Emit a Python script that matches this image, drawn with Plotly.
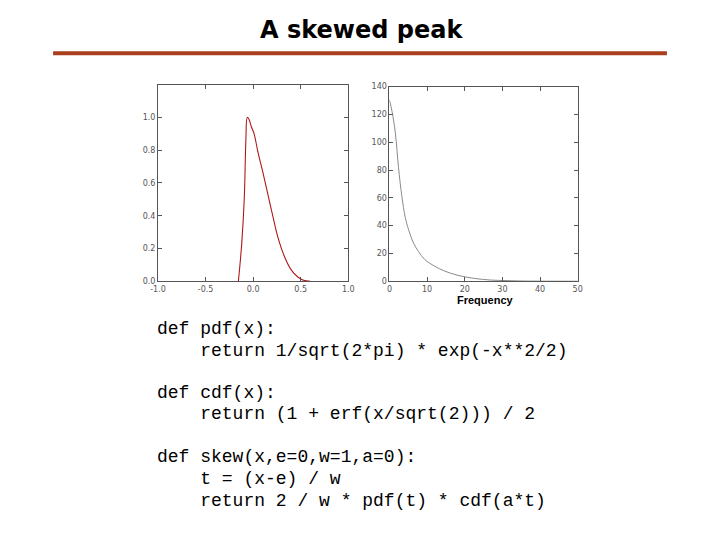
import plotly.graph_objects as go

# Left panel: skewed peak pdf
skew_x = [-0.155, -0.12, -0.093, -0.076, -0.062, -0.045, -0.017, 0.01, 0.05, 0.10,
          0.155, 0.21, 0.26, 0.33, 0.40, 0.47, 0.53, 0.60]
skew_y = [0.0, 0.23, 0.51, 0.87, 1.0, 0.99, 0.94, 0.90, 0.79, 0.67,
          0.53, 0.39, 0.27, 0.15, 0.07, 0.026, 0.006, 0.0]

# Right panel: frequency curve
freq_x = [0, 0.7, 1.6, 2.4, 3.3, 4.2, 5.1, 6.4, 7.7, 9.4, 12.0, 14.7, 18.2,
          22.5, 26.9, 31.2, 35.6, 42, 50]
freq_y = [130.5, 122, 106, 82, 61, 46, 37, 27.5, 21.5, 15.6, 10.9, 7.3, 4.3,
          2.1, 0.9, 0.5, 0.2, 0.08, 0.03]

left_xticks = [-1.0, -0.5, 0.0, 0.5, 1.0]
left_yticks = [0.0, 0.2, 0.4, 0.6, 0.8, 1.0]
right_xticks = [0, 10, 20, 30, 40, 50]
right_yticks = [0, 20, 40, 60, 80, 100, 120, 140]

title_text = "A skewed peak"
xlabel_right = "Frequency"
code_lines = [
    ("def pdf(x):", 331),
    ("    return 1/sqrt(2*pi) * exp(-x**2/2)", 353),
    ("def cdf(x):", 396),
    ("    return (1 + erf(x/sqrt(2))) / 2", 417),
    ("def skew(x,e=0,w=1,a=0):", 461),
    ("    t = (x-e) / w", 483),
    ("    return 2 / w * pdf(t) * cdf(a*t)", 505),
]

W, H = 720, 540

fig = go.Figure()
fig.add_trace(go.Scatter(x=skew_x, y=skew_y, mode="lines",
                         line=dict(color="#b01818", width=1.1, shape="spline"),
                         xaxis="x", yaxis="y", showlegend=False))
fig.add_trace(go.Scatter(x=freq_x, y=freq_y, mode="lines",
                         line=dict(color="#8a8a8a", width=1, shape="spline"),
                         xaxis="x2", yaxis="y2", showlegend=False))

axis_common = dict(showline=True, linecolor="#555", linewidth=1, mirror="allticks",
                   ticks="inside", ticklen=4, tickcolor="#555", showgrid=False,
                   zeroline=False, tickfont=dict(size=8, color="#555",
                                                 family="DejaVu Sans"))

fig.update_layout(
    width=W, height=H,
    margin=dict(l=0, r=0, t=0, b=0),
    paper_bgcolor="white", plot_bgcolor="white",
    xaxis=dict(domain=[153 / W, 347 / W], range=[-1, 1], tickvals=left_xticks,
               ticktext=["%.1f" % v for v in left_xticks], anchor="y", **axis_common),
    yaxis=dict(domain=[1 - 282 / H, 1 - 82 / H], range=[0, 1.2], tickvals=left_yticks,
               ticktext=["%.1f" % v for v in left_yticks], anchor="x", **axis_common),
    xaxis2=dict(domain=[389 / W, 581 / W], range=[0, 50], tickvals=right_xticks,
                anchor="y2", **axis_common),
    yaxis2=dict(domain=[1 - 282 / H, 1 - 84 / H], range=[0, 140], tickvals=right_yticks,
                anchor="x2", **axis_common),
)

annotations = [
    dict(text="<b>%s</b>" % title_text, x=361 / W, y=1 - 26 / H, xref="paper", yref="paper",
         showarrow=False, xanchor="center", yanchor="middle",
         font=dict(size=24, color="black", family="Comic Sans MS, DejaVu Sans")),
    dict(text="<b>%s</b>" % xlabel_right, x=487 / W, y=1 - 301 / H, xref="paper",
         yref="paper", showarrow=False, xanchor="center", yanchor="middle",
         font=dict(size=11, color="black", family="Liberation Sans")),
]
for txt, ypx in code_lines:
    annotations.append(dict(text=txt.replace(" ", "&nbsp;"), x=150 / W, y=1 - ypx / H,
                            xref="paper", yref="paper", showarrow=False,
                            xanchor="left", yanchor="middle",
                            font=dict(size=18, color="black", family="Liberation Mono")))
fig.update_layout(annotations=annotations)

fig.add_shape(type="line", xref="paper", yref="paper",
              x0=46 / W, x1=672 / W, y0=1 - 50 / H, y1=1 - 50 / H,
              line=dict(color="#a8401f", width=4))

fig.write_html("out.html", config={"displayModeBar": False},
               post_script="document.body.style.margin='0';document.body.style.overflow='hidden';")
